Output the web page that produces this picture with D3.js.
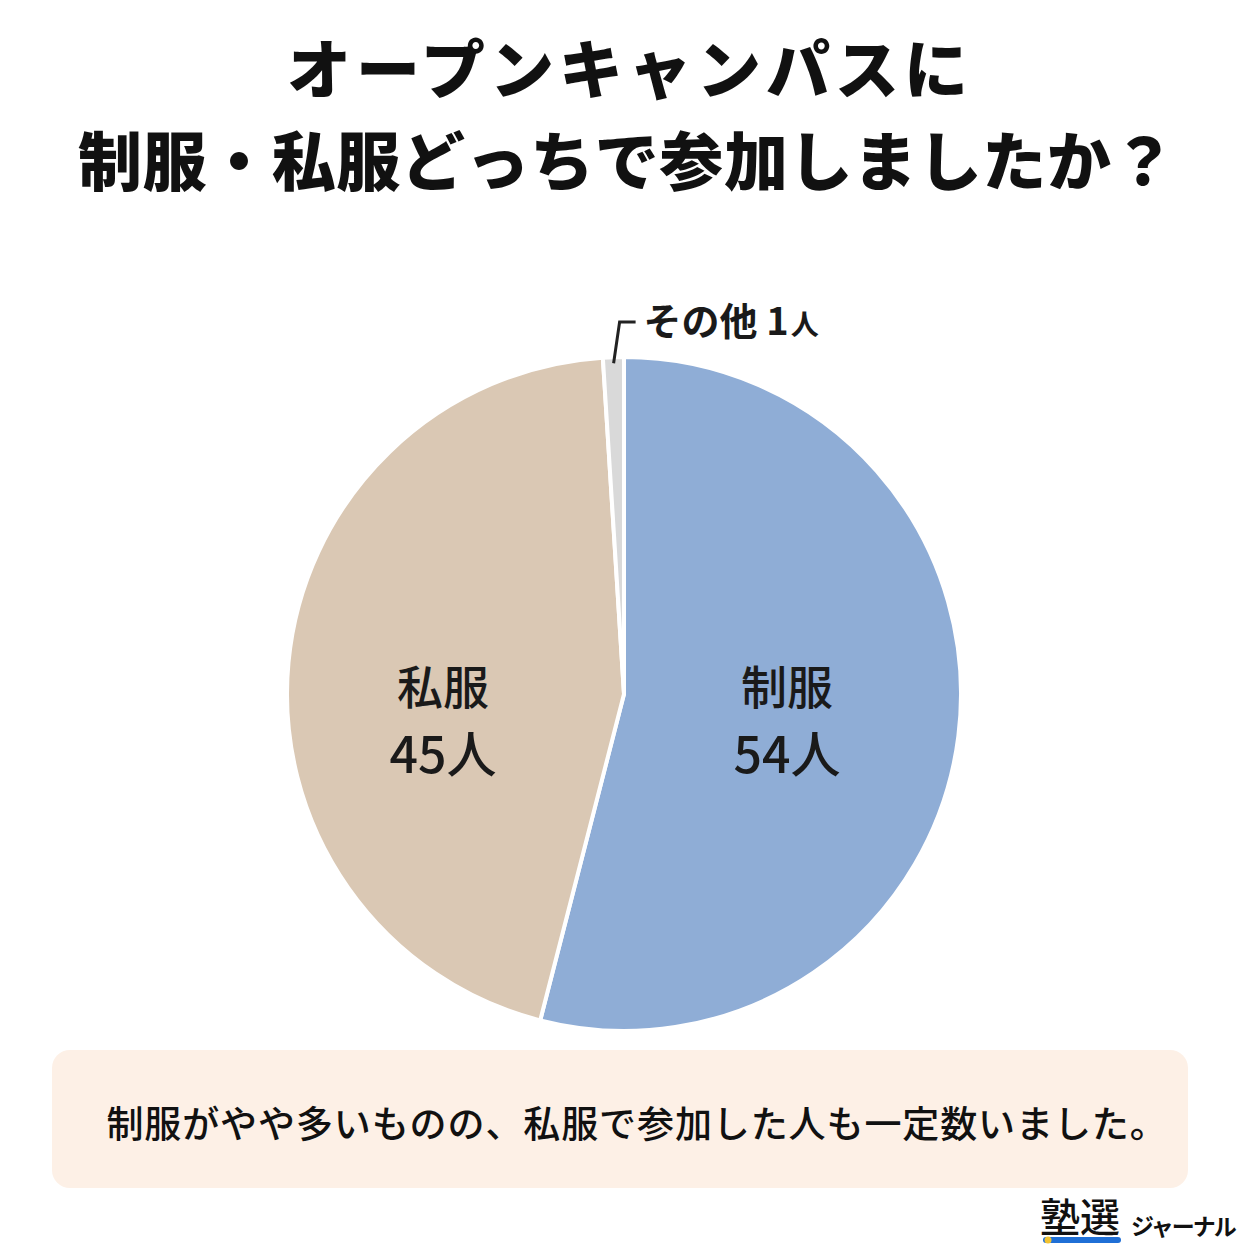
<!DOCTYPE html>
<html>
<head>
<meta charset="utf-8">
<script src="https://cdn.jsdelivr.net/npm/d3@7"></script>
<style>
  body { margin: 0; background: #fff; }
  svg { display: block; font-family: "Noto Sans CJK JP", "Noto Sans", sans-serif; }
</style>
</head>
<body>
<svg id="drawing_region"></svg>
<script>
// data
const categories = ['制服', '私服', 'その他'];
const counts = [54, 45, 1];
const colors = ['#8fadd6', '#dac8b4', '#d9d9d9'];
const titleLines = ['オープンキャンパスに', '制服・私服どっちで参加しましたか？'];
const note = '制服がやや多いものの、私服で参加した人も一定数いました。';

const width = 1254, height = 1254;
const cx = 624, cy = 694, radius = 337;

const svg = d3.select('#drawing_region')
    .attr('width', width)
    .attr('height', height);

// title
svg.selectAll('text.title')
    .data(titleLines)
    .enter()
    .append('text')
    .attr('class', 'title')
    .attr('x', (d, i) => i == 0 ? 630 : 627)
    .attr('y', (d, i) => 93 + i * 92)
    .attr('text-anchor', 'middle')
    .attr('font-size', 64)
    .attr('font-weight', 900)
    .attr('letter-spacing', (d, i) => i == 0 ? 5 : 0.6)
    .attr('fill', '#111')
    .text(d => d);

// pie
const data = categories.map((c, i) => ({ name: c, value: counts[i], color: colors[i] }));
const pie = d3.pie().sort(null).value(d => d.value);
const arc = d3.arc().innerRadius(0).outerRadius(radius);
const arcs = pie(data);

const chart = svg.append('g')
    .attr('transform', `translate(${cx}, ${cy})`);

chart.selectAll('path')
    .data(arcs)
    .enter()
    .append('path')
    .attr('d', arc)
    .attr('fill', d => d.data.color)
    .attr('stroke', '#fff')
    .attr('stroke-width', 4)
    .attr('stroke-linejoin', 'round');

// inner labels for the two big slices
const labelArc = d3.arc().innerRadius(radius * 0.52).outerRadius(radius * 0.52);
arcs.slice(0, 2).forEach(a => {
    const [lx, ly] = labelArc.centroid(a);
    const g = chart.append('g').attr('transform', `translate(${lx < 0 ? -181 : 163}, 0)`);
    g.append('text')
        .attr('x', 0)
        .attr('y', 10)
        .attr('text-anchor', 'middle')
        .attr('font-size', 46)
        .attr('font-weight', 500)
        .attr('fill', '#1a1a1a')
        .text(a.data.name);
    g.append('text')
        .attr('x', 0)
        .attr('y', 79)
        .attr('text-anchor', 'middle')
        .attr('font-size', 50)
        .attr('font-weight', 500)
        .attr('fill', '#1a1a1a')
        .text(a.data.value + '人');
});

// leader label for the small slice
const other = arcs[2];
const mid = (other.startAngle + other.endAngle) / 2;
const p0 = [Math.sin(mid) * (radius - 6), -Math.cos(mid) * (radius - 6)];
const p1 = [p0[0] + 6, -radius - 35];
const p2 = [p1[0] + 16, p1[1]];
chart.append('path')
    .attr('d', d3.line()([p0, p1, p2]))
    .attr('fill', 'none')
    .attr('stroke', '#222')
    .attr('stroke-width', 3);

const otherText = chart.append('text')
    .attr('x', p2[0] + 8)
    .attr('y', p1[1] + 13)
    .attr('font-size', 38)
    .attr('font-weight', 700)
    .attr('fill', '#1a1a1a');
otherText.append('tspan').text(other.data.name + ' ' + other.data.value);
otherText.append('tspan').attr('font-size', 28).attr('dx', 2).text('人');

// note box
svg.append('rect')
    .attr('x', 52)
    .attr('y', 1050)
    .attr('width', 1136)
    .attr('height', 138)
    .attr('rx', 18)
    .attr('fill', '#fdf0e6');

svg.append('text')
    .attr('x', 637)
    .attr('y', 1138)
    .attr('text-anchor', 'middle')
    .attr('font-size', 37)
    .attr('font-weight', 500)
    .attr('letter-spacing', 0.9)
    .attr('fill', '#111')
    .text(note);

// logo
svg.append('rect')
    .attr('x', 1043)
    .attr('y', 1237)
    .attr('width', 78)
    .attr('height', 6)
    .attr('rx', 3)
    .attr('fill', '#1f6fd6');
svg.append('circle')
    .attr('cx', 1048)
    .attr('cy', 1240)
    .attr('r', 3.5)
    .attr('fill', '#f2c230');
svg.append('text')
    .attr('x', 1040)
    .attr('y', 1232)
    .attr('font-size', 40)
    .attr('font-weight', 500)
    .attr('fill', '#111')
    .text('塾選');
svg.append('text')
    .attr('x', 1131)
    .attr('y', 1235)
    .attr('font-size', 23)
    .attr('font-weight', 700)
    .attr('letter-spacing', -2)
    .attr('fill', '#111')
    .text('ジャーナル');
</script>
</body>
</html>
